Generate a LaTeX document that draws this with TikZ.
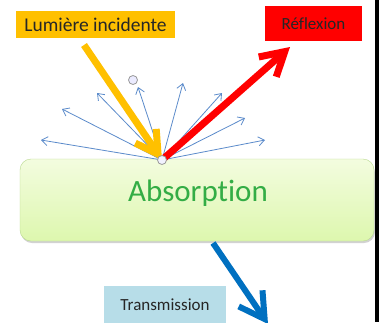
\documentclass[tikz,border=0pt]{standalone}
\usepackage{fontspec}
\setmainfont{Carlito}[Ligatures=NoCommon]
\usetikzlibrary{arrows.meta}
\definecolor{incid}{HTML}{FFC000}
\definecolor{refl}{HTML}{FF0000}
\definecolor{trans}{HTML}{0070C0}
\definecolor{transbg}{HTML}{B7DDE8}
\definecolor{fan}{HTML}{5B8BCB}
\definecolor{absTop}{HTML}{F3FCDF}
\definecolor{absBot}{HTML}{DDF7AE}
\definecolor{absLine}{HTML}{B9D98F}
\definecolor{absText}{HTML}{33AD45}
\tikzset{
  lbl/.style={inner sep=0pt,text=black!85,anchor=center},
  ray/.style={line width=#1,line cap=butt},
  barb/.style={-{Straight Barb[length=#1,width=1.15*#1]}},
  thinray/.style={fan,line width=0.8pt,-{Straight Barb[length=6pt,width=9pt]}}
}
\begin{document}
\begin{tikzpicture}[x=1pt,y=-1pt]
\clip (0,0) rectangle (379,322);
\fill[white] (0,0) rectangle (379,322);
% labels
\node[lbl,fill=incid,minimum width=159pt,minimum height=27pt,font=\fontsize{19.5}{19.5}\selectfont] (incident) at (95.5,24.5) {Lumière incidente};
\node[lbl,fill=refl,minimum width=97pt,minimum height=35pt,font=\fontsize{17}{17}\selectfont] (reflexion) at (313.5,23.5) {Réflexion};
\node[lbl,fill=transbg,minimum width=122pt,minimum height=38pt,font=\fontsize{17}{17}\selectfont,text depth=0pt] (transmission) at (165,305) {Transmission};
% absorbing body
\fill[gray!35,rounded corners=11pt] (21,162) rectangle (375,243);
\shade[top color=absTop,bottom color=absBot,draw=absLine,rounded corners=11pt] (20,159) rectangle (374,241);
\node[lbl,text=absText,font=\fontsize{31}{31}\selectfont] (absorption) at (198,193) {Absorption};
% rays
\coordinate (impact) at (162,160);
\coordinate (incStart) at (84,45);
\coordinate (reflEnd) at (290,47);
\coordinate (transStart) at (213,243);
\coordinate (transEnd) at (268,324);
\foreach \i/\x/\y in {1/41/140,2/62/109,3/97/93,4/138/87,5/183/83,6/222/93,7/245/118,8/265/140}{
  \coordinate (fan\i) at (\x,\y);
  \draw[thinray] (impact) -- (fan\i);
}
\draw[incid,ray=7pt,barb=22pt] (incStart) -- (impact);
\draw[refl,ray=7pt,barb=23pt] (impact) -- (reflEnd);
\draw[trans,ray=6pt,barb=25pt] (transStart) -- (transEnd);
\filldraw[fill=blue!5,draw=gray!80,line width=0.8pt] (impact) circle (4.5);
\filldraw[fill=blue!8,draw=gray!80,line width=0.8pt] (133,80) circle (4.5);
\fill[black] (375,0) rectangle (379,322);
\end{tikzpicture}
\end{document}
